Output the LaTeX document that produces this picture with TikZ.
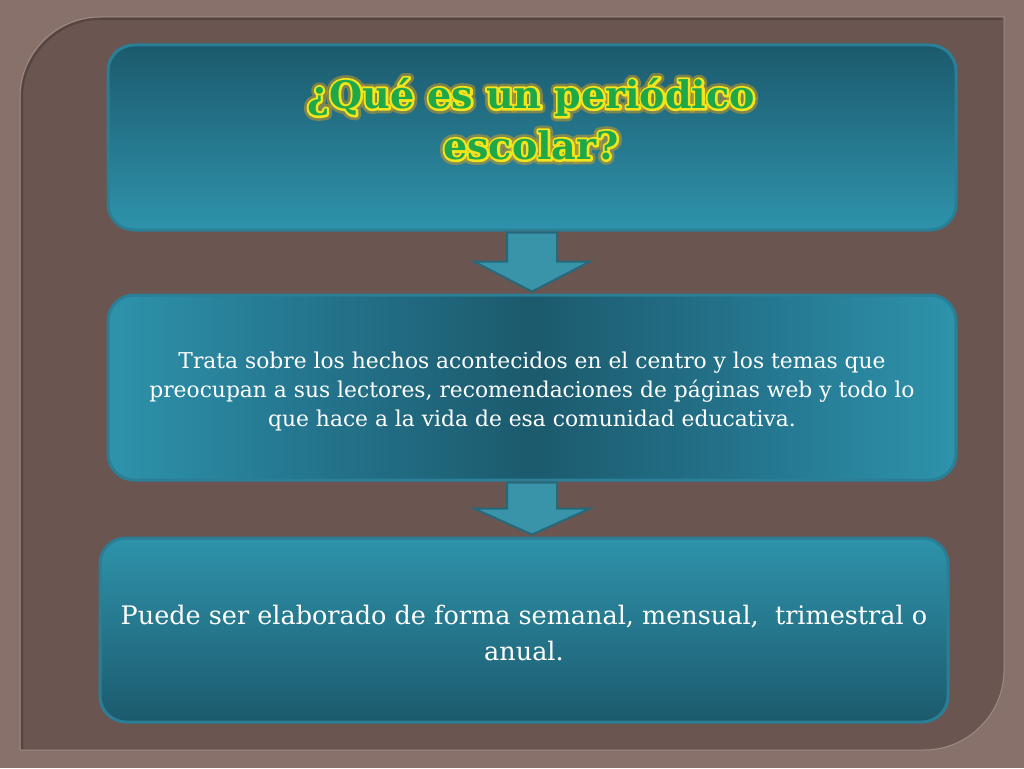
\documentclass[tikz,border=0pt]{standalone}
\usepackage{fontspec}
\setmainfont{DejaVu Serif}
\usetikzlibrary{calc}
\definecolor{outerbg}{HTML}{88706B}
\definecolor{panelbg}{HTML}{6B5551}
\definecolor{paneledge}{HTML}{A08A85}
\definecolor{tealdark}{HTML}{1C5A6D}
\definecolor{tealmid}{HTML}{257790}
\definecolor{teallight}{HTML}{2E93AB}
\definecolor{tealedge}{HTML}{2A7E95}
\definecolor{arrowfill}{HTML}{3A94A9}
\definecolor{arrowedge}{HTML}{256A7C}
\definecolor{titlegreen}{HTML}{1EA84A}
\definecolor{titleyellow}{HTML}{F2E51C}
\definecolor{titleglow}{HTML}{D9A21E}
\pgfdeclarehorizontalshading{midglow}{100bp}{color(0bp)=(teallight); color(25bp)=(teallight); color(36bp)=(tealmid); color(50bp)=(tealdark); color(64bp)=(tealmid); color(75bp)=(teallight); color(100bp)=(teallight)}
\tikzset{
  boxbase/.style={rounded corners=26pt, draw=tealedge, line width=3pt, minimum width=848pt, inner sep=0pt},
  boxtop/.style={boxbase, minimum height=185pt, top color=tealdark, bottom color=teallight},
  boxmid/.style={boxbase, minimum height=185pt, shading=midglow, text=white, align=center, font=\fontsize{21.8}{29}\selectfont},
  boxbot/.style={boxbase, minimum height=184pt, top color=teallight, bottom color=tealdark, text=white, align=center, font=\fontsize{25.5}{36}\selectfont},
  downarrow/.style={fill=arrowfill, draw=arrowedge, line width=2pt, line join=miter},
  titletext/.style={align=center, font=\fontsize{38}{51}\selectfont\bfseries},
}
\newcommand{\titlecontent}{¿Qué es un periódico\\escolar?}
\begin{document}
\begin{tikzpicture}[x=1pt,y=-1pt]
\useasboundingbox (0,0) rectangle (1024,768);
\fill[outerbg] (0,0) rectangle (1024,768);
\fill[panelbg] (20,750) -- (20,97) .. controls (20,53) and (56,17) .. (100,17) -- (1004,17) -- (1004,670) .. controls (1004,714) and (968,750) .. (924,750) -- cycle;
\draw[paneledge, line width=1pt] (20,750) -- (20,97) .. controls (20,53) and (56,17) .. (100,17) -- (1004,17) -- (1004,670) .. controls (1004,714) and (968,750) .. (924,750) -- cycle;
\draw[black!20!panelbg, line width=2pt] (22,749) -- (22,97) .. controls (22,55) and (58,19) .. (100,19) -- (1002,19);
% boxes
\node[boxtop] (b1) at (532,137.5) {};
\node[boxmid] (b2) at (532,387.5) {\rule{0pt}{24pt}Trata sobre los hechos acontecidos en el centro y los temas que\\preocupan a sus lectores, recomendaciones de páginas web y todo lo\\que hace a la vida de esa comunidad educativa.};
\node[boxbot] (b3) at (524,630) {\rule{0pt}{25.5pt}Puede ser elaborado de forma semanal, mensual,\ \ trimestral o\\anual.};
% arrows
\draw[downarrow] ($(b1.south)+(-25,1)$) -- ($(b1.south)+(25,1)$) -- ($(b1.south)+(25,30)$) -- ($(b1.south)+(58,30)$) -- ($(b2.north)+(0,-2)$) -- ($(b1.south)+(-58,30)$) -- ($(b1.south)+(-25,30)$) -- cycle;
\draw[downarrow] ($(b2.south)+(-25,1)$) -- ($(b2.south)+(25,1)$) -- ($(b2.south)+(25,27)$) -- ($(b2.south)+(58,27)$) -- ($(b3.north)+(8,-2)$) -- ($(b2.south)+(-58,27)$) -- ($(b2.south)+(-25,27)$) -- cycle;
% title: orange glow, yellow outline, green letters
\coordinate (t) at (531,119);
\node[titletext, text=titleglow, opacity=0.5] (titleglow) at (t) {\special{pdf:literal direct 0.85 0.62 0.12 RG 10 w 1 j 2 Tr}\titlecontent\special{pdf:literal direct 0 Tr}};
\node[titletext, text=titleyellow] (titleline) at (t) {\special{pdf:literal direct 0.95 0.90 0.11 RG 4.5 w 1 j 2 Tr}\titlecontent\special{pdf:literal direct 0 Tr}};
\node[titletext, text=titlegreen] (title) at (t) {\titlecontent};
\end{tikzpicture}
\end{document}
